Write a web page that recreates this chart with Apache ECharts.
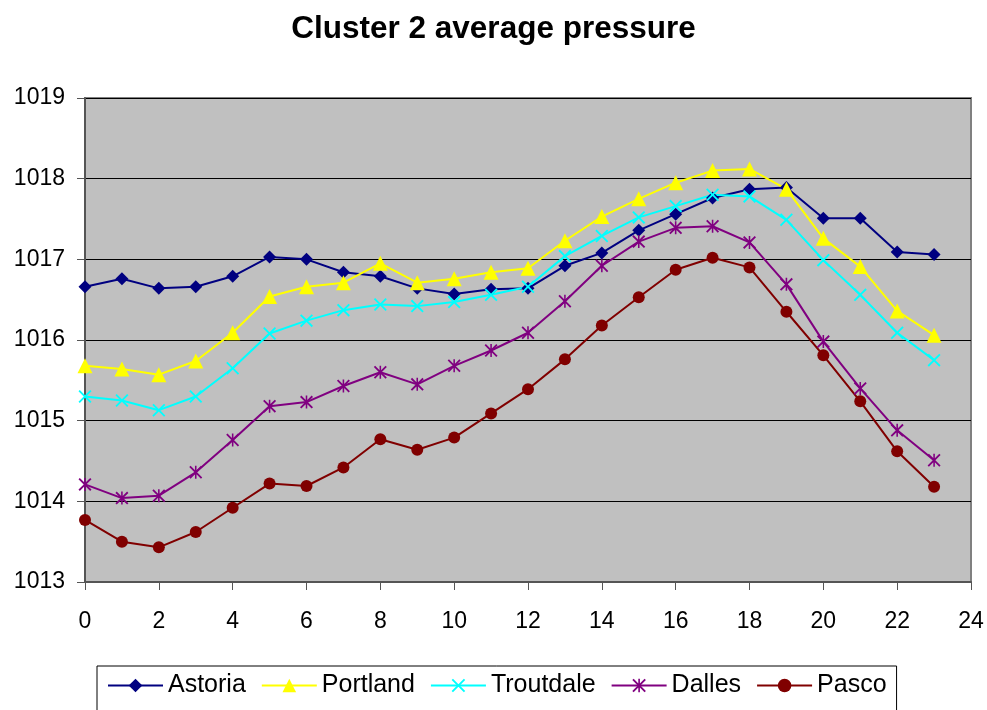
<!DOCTYPE html>
<html>
<head>
<meta charset="utf-8">
<script src="https://cdn.jsdelivr.net/npm/echarts@6/dist/echarts.min.js"></script>
<style>
  html, body { margin: 0; padding: 0; background: #fff; }
  #chart { width: 987px; height: 710px; }
</style>
</head>
<body>
<div id="chart"></div>
<script>
// hour of day
const hours = [0, 1, 2, 3, 4, 5, 6, 7, 8, 9, 10, 11, 12, 13, 14, 15, 16, 17, 18, 19, 20, 21, 22, 23];

// average pressure per station
const astoria = [1016.66, 1016.76, 1016.64, 1016.66, 1016.79, 1017.03, 1017.0, 1016.84, 1016.79, 1016.64, 1016.57, 1016.63,
  1016.64, 1016.92, 1017.08, 1017.36, 1017.56, 1017.76, 1017.87, 1017.89, 1017.51, 1017.51, 1017.09, 1017.06];
const portland = [1015.68, 1015.64, 1015.57, 1015.74, 1016.09, 1016.54, 1016.66, 1016.71, 1016.95, 1016.71, 1016.76, 1016.84,
  1016.89, 1017.23, 1017.53, 1017.75, 1017.95, 1018.10, 1018.12, 1017.87, 1017.26, 1016.91, 1016.36, 1016.06];
const troutdale = [1015.30, 1015.25, 1015.13, 1015.30, 1015.65, 1016.08, 1016.24, 1016.37, 1016.44, 1016.42, 1016.47, 1016.56,
  1016.66, 1017.04, 1017.29, 1017.52, 1017.66, 1017.80, 1017.78, 1017.49, 1016.99, 1016.56, 1016.09, 1015.75];
const dalles = [1014.21, 1014.04, 1014.07, 1014.36, 1014.76, 1015.18, 1015.23, 1015.43, 1015.60, 1015.45, 1015.68, 1015.87,
  1016.09, 1016.48, 1016.92, 1017.22, 1017.39, 1017.41, 1017.21, 1016.69, 1015.98, 1015.40, 1014.88, 1014.51];
const pasco = [1013.77, 1013.50, 1013.43, 1013.62, 1013.92, 1014.22, 1014.19, 1014.42, 1014.77, 1014.64, 1014.79, 1015.09,
  1015.39, 1015.76, 1016.18, 1016.53, 1016.87, 1017.02, 1016.90, 1016.35, 1015.81, 1015.24, 1014.62, 1014.18];

const seriesNames = ["Astoria", "Portland", "Troutdale", "Dalles", "Pasco"];
const seriesData = [astoria, portland, troutdale, dalles, pasco];

// marker shapes (excel style)
const crossPath = "path://M0,1L1,0L5,4L9,0L10,1L6,5L10,9L9,10L5,6L1,10L0,9L4,5Z";
const starPath = "path://M0,1L1,0L5,4L9,0L10,1L6,5L10,9L9,10L5,6L1,10L0,9L4,5Z M4.4,0L5.6,0L5.6,10L4.4,10Z";

const styles = [
  { color: "#000080", symbol: "diamond", size: 13 },
  { color: "#FFFF00", symbol: "triangle", size: 15 },
  { color: "#00FFFF", symbol: crossPath, size: 13 },
  { color: "#800080", symbol: starPath, size: 13 },
  { color: "#800000", symbol: "circle", size: 12 },
];

const fontFamily = "'Liberation Sans', Arial, sans-serif";

const chart = echarts.init(document.getElementById("chart"));
chart.setOption({
  animation: false,
  backgroundColor: "#fff",
  title: {
    text: "Cluster 2 average pressure",
    left: "center",
    top: 8,
    textStyle: { fontFamily, fontSize: 31.5, fontWeight: "bold", color: "#000" },
  },
  legend: {
    left: 97,
    top: 666,
    padding: [7, 10, 20, 10],
    itemWidth: 55,
    itemHeight: 17,
    itemGap: 15,
    borderColor: "#000",
    borderWidth: 1,
    backgroundColor: "#fff",
    textStyle: { fontFamily, fontSize: 25, color: "#000" },
    data: seriesNames,
  },
  grid: {
    left: 85,
    right: 16,
    top: 98,
    bottom: 128,
    show: true,
    backgroundColor: "#C0C0C0",
    borderColor: "#808080",
    borderWidth: 2,
  },
  xAxis: {
    type: "value",
    min: 0,
    max: 24,
    interval: 2,
    axisLine: { show: true, onZero: false, lineStyle: { color: "#555", width: 2 } },
    axisTick: { show: true, length: 8, lineStyle: { color: "#555" } },
    axisLabel: { fontFamily, fontSize: 23, color: "#000", margin: 28 },
    splitLine: { show: false },
  },
  yAxis: {
    type: "value",
    min: 1013,
    max: 1019,
    interval: 1,
    axisLine: { show: true, lineStyle: { color: "#555", width: 2 } },
    axisTick: { show: true, length: 8, lineStyle: { color: "#555" } },
    axisLabel: { fontFamily, fontSize: 23, color: "#000", margin: 20, formatter: (v) => String(v) },
    splitLine: { show: true, lineStyle: { color: "#000", width: 1 } },
  },
  series: seriesNames.map((name, i) => ({
    name,
    type: "line",
    data: hours.map((h, j) => [h, seriesData[i][j]]),
    symbol: styles[i].symbol,
    symbolSize: styles[i].size,
    showAllSymbol: true,
    lineStyle: { color: styles[i].color, width: 2 },
    itemStyle: { color: styles[i].color },
  })),
});
</script>
</body>
</html>
